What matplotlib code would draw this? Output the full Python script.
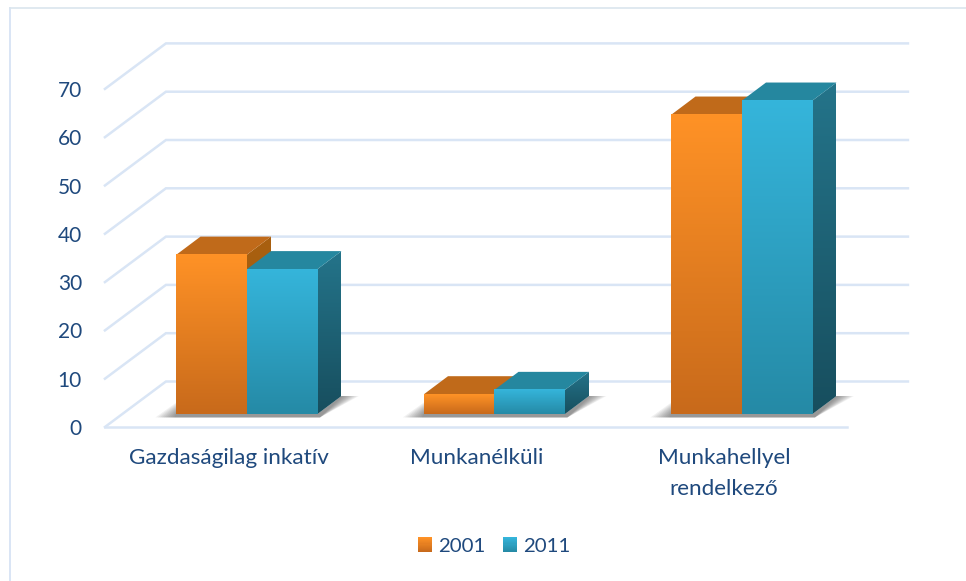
import matplotlib
import numpy as np

matplotlib.use("Agg")
import matplotlib.pyplot as plt
from matplotlib.colors import LinearSegmentedColormap
from matplotlib.legend_handler import HandlerPatch
from matplotlib.patches import Patch, Polygon, Rectangle

categories = ["Gazdaságilag inkatív", "Munkanélküli", "Munkahellyel\nrendelkező"]
years = ["2001", "2011"]
values_2001 = [33.0, 4.1, 62.0]
values_2011 = [30.0, 5.0, 64.9]
y_ticks = [0, 10, 20, 30, 40, 50, 60, 70]

TEXT = "#1F497D"
GRID = "#D9E5F5"
FRAME = "#DAE5EE"

# one colour set per series: front top, front bottom, side top, side bottom, roof
STYLE = {
    "2001": ("#FF9226", "#C86A1B", "#A9600F", "#A05A12", "#C06A1A"),
    "2011": ("#35B5DB", "#258AA6", "#24748A", "#174E5E", "#25879F"),
}

W, H = 966, 581
PX_X = 247.5    # pixels per category
PX_Y = 4.83     # pixels per value unit
X0, Y0 = 247, 414   # where category 0 / value 0 land on the bar front

BAR_W = 70.5 / PX_X
DX, DY = 24 / PX_X, 18 / PX_Y   # bar depth
FLOOR_DX, FLOOR_DY = 61 / PX_X, 45.5 / PX_Y
FRONT_Y = -13 / PX_Y            # value 0 at the front edge of the floor
LEFT, RIGHT = -0.574, 2.424


def gradient(ax, x0, x1, y0, y1, top, bottom, clip=None):
    cmap = LinearSegmentedColormap.from_list("g", [bottom, top])
    im = ax.imshow(np.linspace(1, 0, 128).reshape(-1, 1), cmap=cmap, vmin=0, vmax=1,
                   extent=(x0, x1, y0, y1), aspect="auto", zorder=3,
                   interpolation="bilinear")
    if clip is not None:
        clip.set_transform(ax.transData)
        im.set_clip_path(clip)
    return im


def draw_bar(ax, x, value, style):
    front_top, front_bottom, side_top, side_bottom, roof = style
    side = Polygon([(x + BAR_W, 0), (x + BAR_W + DX, DY),
                    (x + BAR_W + DX, value + DY), (x + BAR_W, value)], closed=True)
    gradient(ax, x + BAR_W, x + BAR_W + DX, 0, value + DY, side_top, side_bottom, side)
    ax.add_patch(Polygon([(x, value), (x + DX, value + DY),
                          (x + BAR_W + DX, value + DY), (x + BAR_W, value)],
                         closed=True, fc=roof, ec="none", zorder=3))
    gradient(ax, x, x + BAR_W, 0, value, front_top, front_bottom)


def draw_shadow(ax, x0, x1):
    # soft floor shadow built from stacked translucent shapes
    for grow in np.linspace(1.0, 0.1, 10):
        ax.add_patch(Polygon(
            [(x0 - 0.085 * grow, -0.7), (x1 + 0.01, -0.7),
             (x1 + DX + 0.07 * grow, DY), (x1 + DX, DY), (x1, 0),
             (x0, 0), (x0, 2.4 * grow)],
            closed=True, fc="0.3", ec="none", alpha=0.08, zorder=2))


class GradientHandle(HandlerPatch):
    def create_artists(self, legend, orig_handle, xdescent, ydescent, width, height,
                       fontsize, trans):
        top, bottom = orig_handle.get_gid().split(",")
        cmap = LinearSegmentedColormap.from_list("g", [bottom, top])
        n = 14
        return [Rectangle((-xdescent, -ydescent + height * i / n), width, height / n + 0.3,
                          fc=cmap(i / (n - 1)), ec="none", transform=trans) for i in range(n)]


fig = plt.figure(figsize=(W / 100, H / 100), dpi=100)
plt.rcParams["font.family"] = ["Lato", "DejaVu Sans"]
ax = fig.add_axes([0, 0, 1, 1])
ax.axis("off")

# outer frame
fig.add_artist(plt.Line2D([10 / W, 10 / W], [0, 1 - 8 / H], color=GRID, lw=1.4))
fig.add_artist(plt.Line2D([10 / W, 1], [1 - 8 / H, 1 - 8 / H], color=FRAME, lw=1.2))

# floor, wall and side gridlines
for v in y_ticks:
    front = FRONT_Y + v
    back = front + FLOOR_DY
    ax.plot([LEFT, LEFT + FLOOR_DX, RIGHT + FLOOR_DX], [front, back, back],
            color=GRID, lw=1.8, zorder=1, solid_joinstyle="miter")
    ax.text(-165 / PX_X, front - 2 / PX_Y, str(v), ha="right", va="center",
            fontsize=15, color=TEXT)
ax.plot([LEFT, RIGHT], [FRONT_Y, FRONT_Y], color=GRID, lw=1.8, zorder=1)

for i, (v1, v2) in enumerate(zip(values_2001, values_2011)):
    draw_shadow(ax, i - BAR_W, i + BAR_W)
    draw_bar(ax, i - BAR_W, v1, STYLE["2001"])
    draw_bar(ax, i, v2, STYLE["2011"])

for i, name in enumerate(categories):
    ax.text(i - 18 / PX_X, -34 / PX_Y, name, ha="center", va="top",
            fontsize=16.2, color=TEXT, linespacing=1.68)

ax.set_xlim(-X0 / PX_X, (W - X0) / PX_X)
ax.set_ylim(-(H - Y0) / PX_Y, Y0 / PX_Y)

handles = [Patch(gid=f"{STYLE[y][0]},{STYLE[y][1]}", label=y) for y in years]
ax.legend(handles=handles, handler_map={Patch: GradientHandle()}, ncol=2, frameon=False,
          loc="center", bbox_to_anchor=(494 / W, 1 - 546 / H), bbox_transform=fig.transFigure,
          fontsize=14.7, labelcolor=TEXT, handlelength=0.7, handleheight=0.7,
          handletextpad=0.3, columnspacing=0.85)

fig.savefig("out.png", dpi=100)
plt.close(fig)
